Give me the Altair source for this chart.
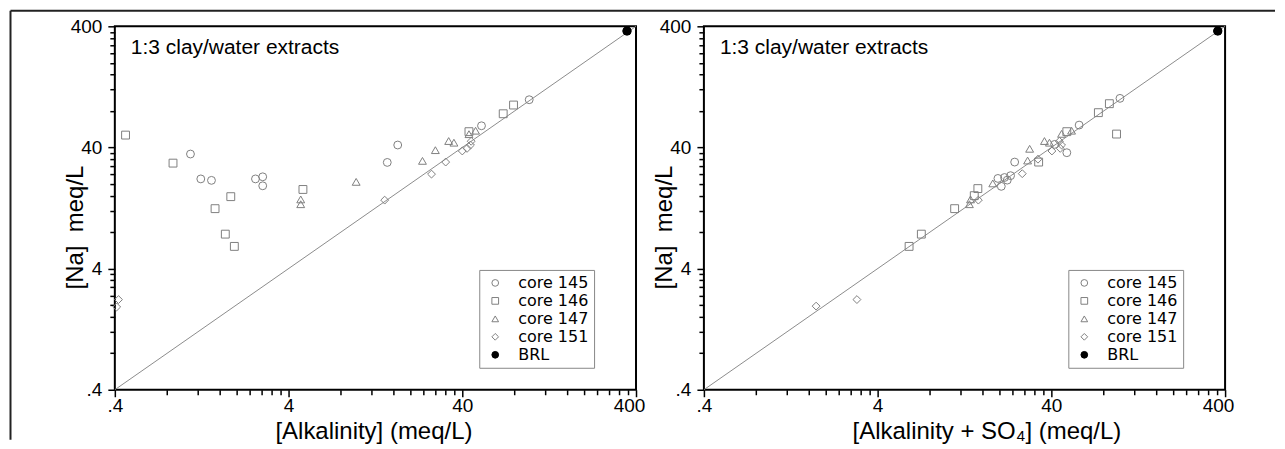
import altair as alt
import pandas as pd

# ---------------- data ----------------
series_names = ["core 145", "core 146", "core 147", "core 151", "BRL"]
series_shapes = ["circle", "square", "triangle-up", "diamond", "circle"]
series_strokes = ["#808080", "#808080", "#808080", "#808080", "black"]
series_fills = ["transparent", "transparent", "transparent", "transparent", "black"]

# Left panel: [Alkalinity] vs [Na]
left_c145_x = [1.09, 1.25, 1.44, 2.58, 2.84, 2.84, 14.8, 17.0, 51.6, 97.1]
left_c145_y = [35.3, 22.0, 21.4, 22.0, 22.9, 19.3, 30.1, 41.9, 60.4, 99.1]
left_c146_x = [0.461, 0.865, 1.51, 1.86, 1.73, 1.95, 4.84, 43.7, 68.8, 78.9]
left_c146_y = [50.6, 29.7, 12.5, 15.7, 7.7, 6.1, 18.0, 54.0, 75.9, 89.6]
left_c147_x = [4.7, 4.7, 9.8, 23.6, 28.0, 33.4, 35.8, 43.7, 47.7]
left_c147_y = [14.9, 13.6, 20.8, 31.0, 38.0, 45.2, 43.8, 51.5, 55.0]
left_c151_x = [0.42, 0.41, 14.3, 26.6, 32.1, 40.0, 42.6, 44.6, 45.0]
left_c151_y = [2.22, 1.93, 14.7, 24.1, 30.3, 37.4, 39.3, 41.9, 45.0]
left_brl_x = [355.0]
left_brl_y = [366.0]

# Right panel: [Alkalinity + SO4] vs [Na]
right_c145_x = [49.1, 19.7, 21.5, 22.3, 20.6, 23.3, 24.6, 41.8, 57.8, 99.3]
right_c145_y = [36.2, 22.2, 22.6, 21.5, 19.1, 23.4, 30.3, 42.4, 61.2, 101.7]
right_c146_x = [6.07, 7.14, 11.1, 14.4, 15.1, 33.8, 49.1, 74.6, 86.3, 94.9]
right_c146_y = [6.1, 7.7, 12.5, 16.0, 18.3, 30.3, 54.0, 77.5, 91.9, 51.6]
right_c147_x = [13.5, 13.7, 18.4, 29.2, 30.0, 36.5, 39.0, 45.8, 52.3]
right_c147_y = [13.6, 14.9, 20.2, 31.2, 39.0, 45.2, 43.8, 51.8, 55.0]
right_c151_x = [1.77, 3.04, 15.2, 27.2, 33.5, 40.3, 45.0, 45.8, 44.5]
right_c151_y = [1.96, 2.22, 14.7, 24.3, 32.0, 37.4, 39.3, 41.9, 45.0]
right_brl_x = [363.0]
right_brl_y = [366.0]

axis_domain = [0.4, 400]
major_ticks = [0.4, 4, 40, 400]
tick_multipliers = [1, 2, 3, 4, 5, 6, 7, 8, 9]
tick_decades = [0.4, 4, 40]
tick_values = sorted(set([round(d * m, 6) for d in tick_decades for m in tick_multipliers] + [400]))

annotation_text = "1:3 clay/water extracts"
y_title = "[Na]\u00a0 meq/L"
left_x_title = "[Alkalinity] (meq/L)"
right_x_title = "[Alkalinity + SO\u2084] (meq/L)"

# ---------------- chart ----------------
W, H = 522, 364
FONT = "Liberation Sans"

label_expr = ("datum.value == 0.4 ? '.4' : datum.value == 4 ? '4' : "
              "datum.value == 40 ? '40' : datum.value == 400 ? '400' : ''")
major_test = "datum.value == 0.4 || datum.value == 4 || datum.value == 40 || datum.value == 400"


def build_df(groups, brl):
    rows = []
    for name, xs, ys in groups:
        for x, y in zip(xs, ys):
            rows.append({"x": x, "y": y, "series": name})
    for x, y in zip(*brl):
        rows.append({"x": x, "y": y, "series": "BRL"})
    return pd.DataFrame(rows)


def panel(df, brl, x_title, x_title_x, with_frame=False):
    xscale = alt.Scale(type="log", domain=axis_domain, nice=False)
    yscale = alt.Scale(type="log", domain=axis_domain, nice=False)
    xaxis = alt.Axis(values=tick_values, labelExpr=label_expr,
                     tickSize={"condition": {"test": major_test, "value": 7}, "value": 5},
                     labelOffset={"condition": {"test": "datum.value >= 300", "value": -7}, "value": 0},
                     labelFlush=False, domain=False, grid=False, labelPadding=0,
                     labelFont=FONT, labelFontSize=19, labelColor="black",
                     titleFont=FONT, titleFontSize=24, titleFontWeight="normal", titleColor="black",
                     tickColor="black", tickWidth=1.5,
                     title=x_title, titleX=x_title_x, titleY=30, titleBaseline="top")
    yaxis = alt.Axis(values=tick_values, labelExpr=label_expr,
                     tickSize={"condition": {"test": major_test, "value": 7}, "value": 5},
                     domain=False, grid=False, labelPadding=6,
                     labelFont=FONT, labelFontSize=19, labelColor="black",
                     titleFont=FONT, titleFontSize=24, titleFontWeight="normal", titleColor="black",
                     tickColor="black", tickWidth=1.5,
                     title=y_title, titleX=-27, titleY=201)
    X = alt.X("x:Q", scale=xscale, axis=xaxis)
    Y = alt.Y("y:Q", scale=yscale, axis=yaxis)

    leg = alt.Legend(title=None, orient="none", legendX=365, legendY=244,
                     strokeColor="#888888", fillColor="white", padding=5,
                     rowPadding=2, labelFont="DejaVu Sans", labelFontSize=16,
                     labelColor="black", symbolSize=45, symbolStrokeWidth=1,
                     symbolOffset=3, labelOffset=15)

    line_df = pd.DataFrame({"x": axis_domain, "y": axis_domain})
    diag = alt.Chart(line_df).mark_line(color="#8c8c8c", strokeWidth=1).encode(x=X, y=Y)

    pts = alt.Chart(df).mark_point(filled=True, size=62, strokeWidth=1, opacity=1).encode(
        x=X, y=Y,
        shape=alt.Shape("series:N", scale=alt.Scale(domain=series_names, range=series_shapes), legend=leg),
        fill=alt.Fill("series:N", scale=alt.Scale(domain=series_names, range=series_fills), legend=leg),
        stroke=alt.Stroke("series:N", scale=alt.Scale(domain=series_names, range=series_strokes), legend=leg),
    )

    brl_df = pd.DataFrame({"x": brl[0], "y": brl[1]})
    brl_big = alt.Chart(brl_df).mark_point(filled=True, size=85, color="black", opacity=1).encode(x=X, y=Y)

    note = alt.Chart(pd.DataFrame({"t": [annotation_text]})).mark_text(
        align="left", baseline="alphabetic", fontSize=21, font=FONT, color="black"
    ).encode(text="t:N", x=alt.value(16), y=alt.value(28))

    layers = [diag, pts, brl_big, note]
    if with_frame:
        top = alt.Chart(pd.DataFrame({"a": [0]})).mark_rule(color="#222222", strokeWidth=2).encode(
            x=alt.value(-104.5), x2=alt.value(1162), y=alt.value(-15.5))
        left = alt.Chart(pd.DataFrame({"a": [0]})).mark_rule(color="#222222", strokeWidth=2).encode(
            x=alt.value(-104.5), y=alt.value(-15.5), y2=alt.value(H + 50))
        layers += [top, left]
    return alt.layer(*layers).properties(width=W, height=H)


left_df = build_df([("core 145", left_c145_x, left_c145_y),
                    ("core 146", left_c146_x, left_c146_y),
                    ("core 147", left_c147_x, left_c147_y),
                    ("core 151", left_c151_x, left_c151_y)], (left_brl_x, left_brl_y))
right_df = build_df([("core 145", right_c145_x, right_c145_y),
                     ("core 146", right_c146_x, right_c146_y),
                     ("core 147", right_c147_x, right_c147_y),
                     ("core 151", right_c151_x, right_c151_y)], (right_brl_x, right_brl_y))

left_chart = panel(left_df, (left_brl_x, left_brl_y), left_x_title, W / 2 - 2, with_frame=True)
right_chart = panel(right_df, (right_brl_x, right_brl_y), right_x_title, 283)

chart = alt.hconcat(left_chart, right_chart, spacing=68, bounds="flush").resolve_scale(
    shape="independent", fill="independent", stroke="independent"
).properties(
    padding={"left": 0, "top": 0, "right": 0, "bottom": 0},
    background="white"
).configure_view(
    stroke="black", strokeWidth=2
)

chart.save("out.html", embed_options={"renderer": "svg", "actions": False})
